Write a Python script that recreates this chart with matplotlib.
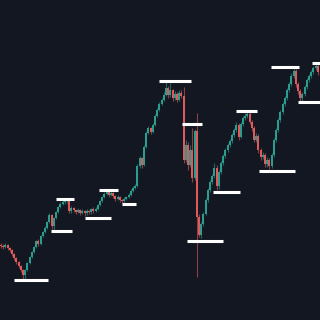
import matplotlib.pyplot as plt
import numpy as np

# close prices (open = previous close)
close = [74, 73, 75, 72, 70, 66, 62, 58, 54, 50, 45, 50, 57, 63, 68, 73, 79, 76, 84, 88,
         92, 98, 105, 94, 102, 108, 113, 116, 118, 119, 120, 109, 112, 110, 108, 110, 107, 109, 107, 109,
         108, 111, 109, 111, 115, 119, 123, 126, 128, 125, 127, 124, 121, 123, 120, 119, 121, 123, 125, 129,
         132, 134, 154, 162, 155, 173, 187, 192, 188, 195, 204, 210, 216, 220, 225, 232, 225, 230, 222, 226,
         220, 227, 224, 160, 175, 155, 170, 142, 189, 103, 85, 96, 106, 120, 130, 138, 144, 152, 134, 148,
         157, 164, 170, 175, 179, 185, 190, 195, 183, 196, 202, 204, 206, 198, 192, 180, 184, 170, 163, 165,
         156, 160, 154, 165, 180, 190, 200, 208, 216, 222, 230, 236, 244, 249, 236, 229, 222, 226, 233, 240,
         244, 248, 252, 254, 248]
high = [77, 76, 77, 76, 73, 71, 67, 63, 59, 55, 51, 51, 58, 64, 69, 74, 80, 81, 85, 89,
        94, 99, 107, 106, 103, 109, 114, 118, 120, 121, 122, 121, 114, 113, 111, 112, 111, 111, 110, 111,
        110, 112, 113, 113, 116, 120, 124, 128, 131, 129, 129, 128, 125, 125, 124, 121, 123, 124, 127, 131,
        134, 136, 156, 164, 163, 175, 189, 194, 193, 197, 206, 212, 218, 222, 228, 238, 234, 237, 231, 229,
        228, 230, 230, 233, 180, 178, 175, 192, 191, 207, 106, 98, 108, 122, 132, 140, 146, 157, 155, 150,
        159, 166, 172, 177, 181, 187, 192, 198, 197, 198, 204, 207, 209, 208, 200, 194, 187, 186, 172, 168,
        167, 163, 162, 167, 182, 192, 202, 210, 218, 224, 232, 238, 247, 253, 251, 238, 231, 228, 235, 242,
        246, 250, 254, 257, 256]
low = [72, 71, 72, 70, 68, 64, 60, 56, 52, 48, 40, 41, 49, 56, 62, 67, 72, 74, 75, 83,
       87, 91, 97, 91, 90, 101, 107, 112, 115, 116, 117, 107, 107, 108, 106, 107, 105, 106, 104, 105,
       106, 106, 107, 108, 110, 114, 118, 122, 125, 123, 124, 122, 119, 120, 118, 117, 118, 120, 122, 124,
       128, 131, 133, 152, 152, 154, 172, 186, 186, 187, 194, 203, 209, 215, 219, 224, 222, 223, 219, 220,
       218, 219, 222, 157, 158, 150, 153, 138, 140, 43, 83, 82, 94, 105, 118, 128, 136, 142, 130, 131,
       146, 155, 162, 168, 173, 177, 183, 188, 180, 182, 194, 200, 202, 196, 189, 178, 178, 167, 160, 161,
       153, 153, 151, 152, 163, 178, 188, 198, 206, 214, 220, 228, 234, 242, 233, 226, 219, 219, 224, 231,
       238, 242, 246, 250, 245]

# swing levels: price, start index, end index
lvl_price = [40, 89, 121, 102, 130, 116, 239, 196, 79, 128, 209, 149, 253, 218, 257]
lvl_start = [5.9, 22.7, 25.0, 38.2, 44.5, 55.0, 71.8, 82.3, 84.5, 96.4, 106.8, 117.3, 122.7, 135.0, 141.4]
lvl_end = [21.4, 32.3, 33.2, 50.0, 53.2, 61.4, 86.4, 91.4, 100.9, 108.6, 116.4, 133.6, 135.5, 145.0, 145.0]

bg = "#131722"
up_col = "#2a9d8f"
down_col = "#e05a5c"

close = np.array(close)
opn = np.concatenate([[75], close[:-1]])
idx = np.arange(len(close))
cols = [up_col if c >= o else down_col for o, c in zip(opn, close)]

fig = plt.figure(figsize=(3.2, 3.2), dpi=100, facecolor=bg)
ax = fig.add_axes([0, 0, 1, 1])
ax.set_facecolor(bg)

# wicks a bit dimmer than bodies
ax.vlines(idx, low, high, colors=cols, linewidth=0.8, alpha=0.6)
body = np.abs(close - opn)
body = np.maximum(body, 0.8)
ax.bar(idx, body, bottom=np.minimum(opn, close), width=0.85, color=cols, linewidth=0)

ax.hlines(lvl_price, lvl_start, lvl_end, colors="white", linewidth=2.2)

ax.set_xlim(-0.4545, 145.0)
ax.set_ylim(0, 320)
ax.axis("off")

plt.savefig("out.png", dpi=100, facecolor=bg)
